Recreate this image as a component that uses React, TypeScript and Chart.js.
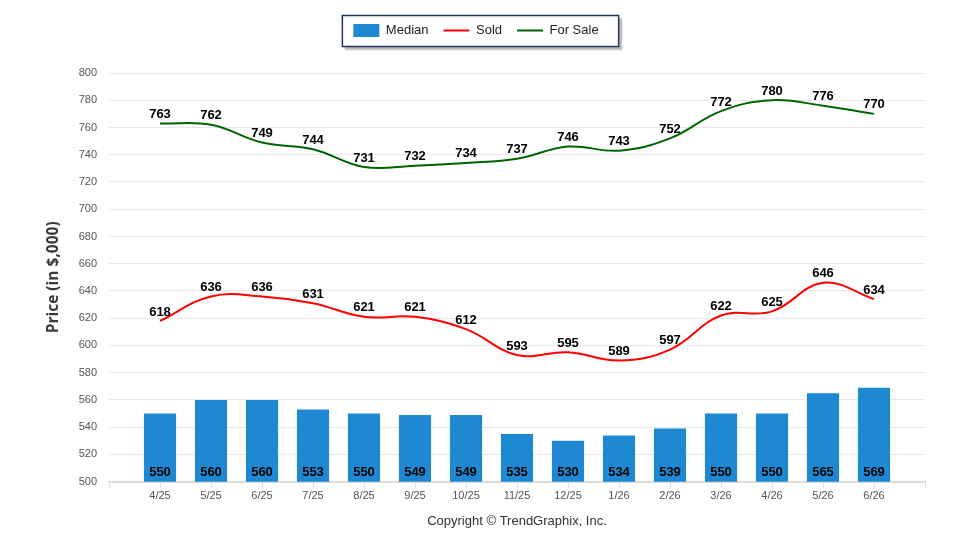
import React, { useEffect, useRef } from "react";
import { Chart, registerables } from "chart.js";

Chart.register(...registerables);

// empty slot at each end, like the original axis
const months = ["", "4/25", "5/25", "6/25", "7/25", "8/25", "9/25", "10/25", "11/25", "12/25", "1/26", "2/26", "3/26", "4/26", "5/26", "6/26", ""];
const median = [null, 550, 560, 560, 553, 550, 549, 549, 535, 530, 534, 539, 550, 550, 565, 569, null];
const sold = [null, 618, 636, 636, 631, 621, 621, 612, 593, 595, 589, 597, 622, 625, 646, 634, null];
const forSale = [null, 763, 762, 749, 744, 731, 732, 734, 737, 746, 743, 752, 772, 780, 776, 770, null];

const FONT = "'Liberation Sans', Arial, sans-serif";

// value labels: bottom of bars, above line points
const valueLabels = {
  id: "valueLabels",
  afterDatasetsDraw(chart: any) {
    const ctx = chart.ctx;
    const bottom = chart.scales.y.getPixelForValue(chart.scales.y.min);
    ctx.save();
    ctx.font = `bold 13px ${FONT}`;
    ctx.fillStyle = "#000";
    ctx.textAlign = "center";
    ctx.textBaseline = "middle";
    chart.data.datasets.forEach((ds: any, i: number) => {
      const meta = chart.getDatasetMeta(i);
      meta.data.forEach((el: any, j: number) => {
        const v = ds.data[j];
        if (v == null) return;
        if (ds.type === "line") {
          ctx.fillText(String(v), el.x, el.y - 9);
        } else {
          ctx.fillText(String(v), el.x, bottom - 9);
        }
      });
    });
    ctx.restore();
  },
};

// framed legend with a drop shadow, centred on the whole canvas
const legendFrame = {
  id: "legendFrame",
  beforeLayout(chart: any) {
    const lg = chart.legend;
    if (lg && !lg._patched) {
      const fit = lg.fit;
      lg.fit = function () {
        fit.call(this);
        this.height += 26;
      };
      lg._patched = true;
    }
  },
  afterUpdate(chart: any) {
    const lg = chart.legend;
    if (!lg) return;
    const center = chart.width / 2 - 4;
    const delta = center - (lg.left + lg.right) / 2;
    lg.left = 0;
    lg.right = center * 2;
    lg.width = center * 2;
    (lg.legendHitBoxes || []).forEach((b: any) => {
      b.left += delta;
    });
  },
  beforeDraw(chart: any) {
    const boxes = chart.legend?.legendHitBoxes;
    if (!boxes || !boxes.length) return;
    const left = Math.min(...boxes.map((b: any) => b.left)) - 11;
    const right = Math.max(...boxes.map((b: any) => b.left + b.width)) + 20;
    const mid = boxes[0].top + boxes[0].height / 2;
    const top = mid - 15;
    const h = 31;
    const ctx = chart.ctx;
    ctx.save();
    ctx.fillStyle = "rgba(0,0,0,0.18)";
    ctx.fillRect(left + 3, top + 3, right - left, h);
    ctx.fillStyle = "rgba(0,0,0,0.12)";
    ctx.fillRect(left + 2, top + 2, right - left + 2, h + 2);
    ctx.fillStyle = "#fff";
    ctx.fillRect(left, top, right - left, h);
    ctx.strokeStyle = "#22365e";
    ctx.lineWidth = 1.5;
    ctx.strokeRect(left, top, right - left, h);
    ctx.restore();
  },
};

const App: React.FC = () => {
  const chartRef = useRef<HTMLCanvasElement>(null);

  useEffect(() => {
    document.body.style.margin = "0";
    if (!chartRef.current) return;
    const ctx = chartRef.current.getContext("2d");
    if (!ctx) return;

    const myChart = new Chart(ctx, {
      type: "bar",
      data: {
        labels: months,
        datasets: [
          {
            type: "bar",
            label: "Median",
            data: median as any,
            backgroundColor: "#1e88d2",
            borderWidth: 0,
            barPercentage: 0.63,
            categoryPercentage: 1,
          },
          {
            type: "line",
            label: "Sold",
            data: sold as any,
            borderColor: "#ff0000",
            backgroundColor: "#ff0000",
            borderWidth: 2,
            pointRadius: 0,
            tension: 0.4,
            fill: false,
          },
          {
            type: "line",
            label: "For Sale",
            data: forSale as any,
            borderColor: "#006400",
            backgroundColor: "#006400",
            borderWidth: 2,
            pointRadius: 0,
            tension: 0.4,
            fill: false,
          },
        ] as any,
      },
      options: {
        responsive: false,
        animation: false,
        layout: {
          padding: { top: 9, left: 0, right: 35, bottom: 0 },
        },
        plugins: {
          tooltip: { enabled: false },
          legend: {
            display: true,
            position: "top",
            labels: {
              usePointStyle: true,
              pointStyleWidth: 26,
              boxHeight: 13,
              padding: 15,
              color: "#222",
              font: { family: FONT, size: 13 },
              generateLabels: (chart: any) =>
                chart.data.datasets.map((ds: any, i: number) => ({
                  text: ds.label,
                  fillStyle: ds.type === "line" ? ds.borderColor : ds.backgroundColor,
                  strokeStyle: ds.type === "line" ? ds.borderColor : ds.backgroundColor,
                  lineWidth: ds.type === "line" ? 2 : 0,
                  pointStyle: ds.type === "line" ? "line" : "rect",
                  hidden: false,
                  datasetIndex: i,
                  fontColor: "#222",
                })),
            },
          },
        },
        scales: {
          x: {
            offset: false,
            grid: {
              offset: false,
              drawOnChartArea: false,
              drawTicks: true,
              tickLength: 6,
              tickColor: "#dcdcdc",
            },
            border: { color: "#dcdcdc", width: 2 },
            ticks: {
              autoSkip: false,
              maxRotation: 0,
              padding: 1.5,
              color: "#555",
              font: { family: FONT, size: 11 },
            },
            title: {
              display: true,
              text: "Copyright © TrendGraphix, Inc.",
              color: "#333",
              font: { family: FONT, size: 13 },
              padding: { top: 9.5, bottom: 21 },
            },
          },
          y: {
            min: 500,
            max: 800,
            afterFit: (scale: any) => {
              scale.width = 109;
            },
            grid: { color: "#e8e8e8", drawTicks: false },
            border: { display: false },
            ticks: {
              stepSize: 20,
              padding: 12,
              color: "#555",
              font: { family: "'Liberation Sans Narrow', 'Liberation Sans', Arial, sans-serif", size: 11 },
            },
            title: {
              display: true,
              text: "Price (in $,000)",
              color: "#3a3a3a",
              font: { family: "'Open Sans', sans-serif", size: 15.5, weight: "bold" },
              padding: { top: 44, bottom: 0 },
            },
          },
        },
      },
      plugins: [valueLabels, legendFrame],
    });

    return () => {
      myChart.destroy();
    };
  }, []);

  return (
    <div style={{ width: 960, height: 550 }}>
      <canvas ref={chartRef} width={960} height={550} />
    </div>
  );
};

export default App;
